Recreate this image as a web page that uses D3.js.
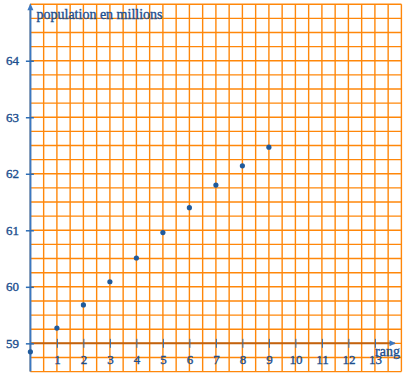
<!DOCTYPE html>
<html>
<head>
<meta charset="utf-8">
<script src="https://cdn.jsdelivr.net/npm/d3@7"></script>
<style>
  body { margin: 0; background: #fff; }
  svg text { font-family: "Liberation Serif", serif; fill: #1d4f8f; stroke: #1d4f8f; stroke-width: 0.35px; }
</style>
</head>
<body>
<div id="chart"></div>
<script>
// data
var rangs = [0, 1, 2, 3, 4, 5, 6, 7, 8, 9];
var population = [58.85, 59.27, 59.68, 60.09, 60.51, 60.96, 61.40, 61.80, 62.14, 62.47];
var xTicks = [1, 2, 3, 4, 5, 6, 7, 8, 9, 10, 11, 12, 13];
var yTicks = [59, 60, 61, 62, 63, 64];
var xLabel = "rang";
var yLabel = "population en millions";

var svg = d3.select("#chart").append("svg")
  .attr("width", 414)
  .attr("height", 382);

var x = d3.scaleLinear().domain([0, 14]).range([30.4, 401.4]);
var y = d3.scaleLinear().domain([58.5, 65]).range([371.6, 4.2]);

var orange = "#ff870a";

// grid: every 0.5 on x, every 0.25 on y
var gx = d3.range(0, 14.01, 0.5);
var gy = d3.range(58.5, 65.01, 0.25);

svg.append("g").selectAll("line")
  .data(gx).enter().append("line")
  .attr("x1", function (d) { return x(d); })
  .attr("x2", function (d) { return x(d); })
  .attr("y1", y(65)).attr("y2", y(58.5))
  .attr("stroke", orange).attr("stroke-width", 1.4);

svg.append("g").selectAll("line")
  .data(gy).enter().append("line")
  .attr("y1", function (d) { return y(d); })
  .attr("y2", function (d) { return y(d); })
  .attr("x1", x(0)).attr("x2", x(14))
  .attr("stroke", orange).attr("stroke-width", 1.4);

// x axis line (brownish)
svg.append("line")
  .attr("x1", x(0)).attr("x2", x(13.75))
  .attr("y1", y(59)).attr("y2", y(59))
  .attr("stroke", "#c2620e").attr("stroke-width", 2);

// y axis line
svg.append("line")
  .attr("x1", x(0)).attr("x2", x(0))
  .attr("y1", y(58.5)).attr("y2", y(64.95))
  .attr("stroke", "#3b78c2").attr("stroke-width", 2);

// arrows
svg.append("path")
  .attr("d", "M" + x(13.55) + "," + (y(59) - 3) + " L" + (x(13.75) + 1) + "," + y(59) + " L" + x(13.55) + "," + (y(59) + 3) + " Z")
  .attr("fill", "#3b78c2");
svg.append("path")
  .attr("d", "M" + (x(0) - 3) + "," + (y(65) + 6) + " L" + x(0) + "," + (y(65) - 1) + " L" + (x(0) + 3) + "," + (y(65) + 6) + " Z")
  .attr("fill", "#3b78c2");

// axes with ticks
var xAxis = svg.append("g")
  .attr("transform", "translate(0," + (y(59) - 4.5) + ")")
  .call(d3.axisBottom(x).tickValues(xTicks).tickSize(9).tickPadding(7)
    .tickFormat(d3.format("d")));
xAxis.select(".domain").remove();
xAxis.selectAll("line").attr("stroke", "#2d6db5").attr("stroke-width", 1);
xAxis.selectAll("text").attr("font-size", "13px").attr("fill", "#1d4f8f");

var yAxis = svg.append("g")
  .attr("transform", "translate(" + (x(0) + 3.5) + ",0)")
  .call(d3.axisLeft(y).tickValues(yTicks).tickSize(8).tickPadding(7)
    .tickFormat(d3.format("d")));
yAxis.select(".domain").remove();
yAxis.selectAll("line").attr("stroke", "#2d6db5").attr("stroke-width", 1.5);
yAxis.selectAll("text").attr("font-size", "13px").attr("fill", "#1d4f8f");

// axis titles
svg.append("text")
  .attr("x", 36.5).attr("y", 18.5)
  .attr("font-size", "14px")
  .text(yLabel);

svg.append("text")
  .attr("x", 400).attr("y", 356)
  .attr("text-anchor", "end")
  .attr("font-size", "14px")
  .text(xLabel);

// points
svg.append("g").selectAll("circle")
  .data(rangs).enter().append("circle")
  .attr("cx", function (d) { return x(d); })
  .attr("cy", function (d, i) { return y(population[i]); })
  .attr("r", 2.6)
  .attr("fill", "#1f5a9c");
</script>
</body>
</html>
